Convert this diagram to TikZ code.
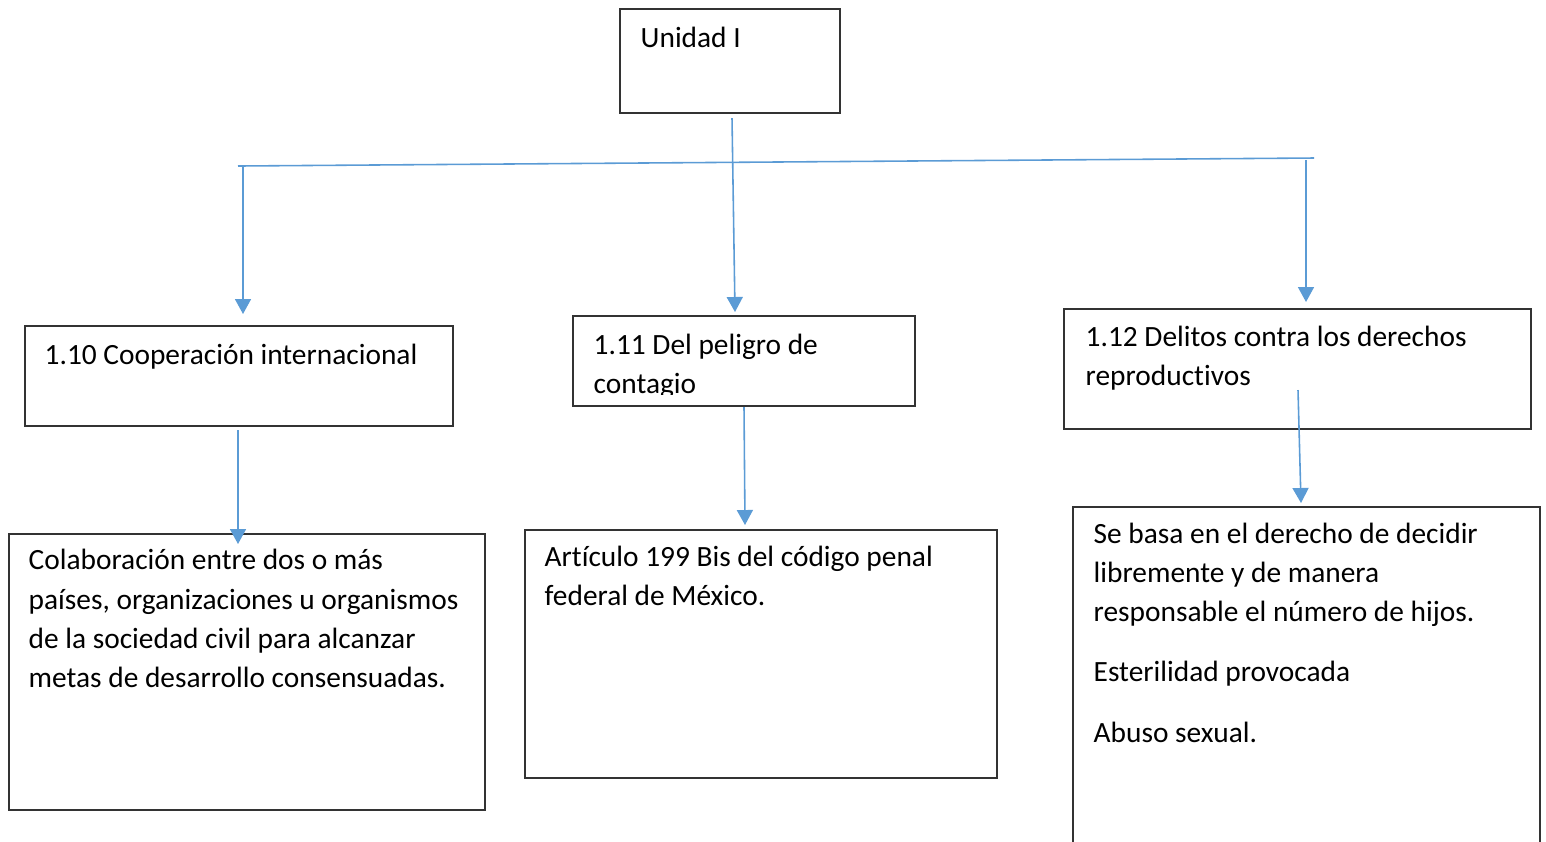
\documentclass[tikz,border=0pt]{standalone}
\usepackage{fontspec}
\setmainfont{Carlito}[Ligatures=NoCommon]
\usetikzlibrary{arrows.meta, positioning}
\definecolor{linkblue}{HTML}{5B9BD5}

\begin{document}
\begin{tikzpicture}[x=0.1mm, y=-0.1mm, every node/.style={font=\fontsize{8.36pt}{11.1pt}\selectfont}]
    % Define styles
    \tikzstyle{box} = [rectangle, draw=black!80, line width=0.45pt, anchor=north west, inner sep=0pt]
    \tikzstyle{txt} = [anchor=base west, align=left, inner sep=0pt]
    \tikzstyle{link} = [draw=linkblue, line width=0.45pt]
    \tikzstyle{arrow} = [link, -{Triangle[width=1.6mm, length=1.5mm]}]

    \useasboundingbox (0,0) rectangle (1546,841);

    % Top box (text nodes sit on their last baseline)
    \node (unidad) [box, minimum width=22mm, minimum height=10.4mm] at (619,8) {};
    \node (t_unidad) [txt] at (640,47) {Unidad I};

    % Topic boxes
    \node (b110) [box, minimum width=42.8mm, minimum height=10mm] at (24,325) {};
    \node (t110) [txt] at (44,364) {1.10 Cooperación internacional};
    \node (b111) [box, minimum width=34.2mm, minimum height=9mm] at (572,315) {};
    \begin{scope}
        \clip (572,315) rectangle (914,394);
        \node (t111) [txt] at (593,393) {1.11 Del peligro de\\contagio};
    \end{scope}
    \node (b112) [box, minimum width=46.7mm, minimum height=12mm] at (1063,308) {};
    \node (t112) [txt] at (1085,385) {1.12 Delitos contra los derechos\\reproductivos};

    % Detail boxes
    \node (bcoop) [box, minimum width=47.6mm, minimum height=27.6mm] at (8,533) {};
    \node (tcoop) [txt] at (28,687) {Colaboración entre dos o más\\países, organizaciones u organismos\\de la sociedad civil para alcanzar\\metas de desarrollo consensuadas.};
    \node (bart) [box, minimum width=47.2mm, minimum height=24.8mm] at (524,529) {};
    \node (tart) [txt] at (544,605) {Artículo 199 Bis del código penal\\federal de México.};
    \node (bdel) [box, minimum width=46.7mm, minimum height=36mm] at (1072,506) {};
    \node (tdel) [txt] at (1093,742) {Se basa en el derecho de decidir\\libremente y de manera\\responsable el número de hijos.\\[6pt]Esterilidad provocada\\[6pt]Abuso sexual.};

    % Spine
    \coordinate (spine_l) at (238,166);
    \coordinate (spine_r) at (1314,158);
    \draw [link] (spine_l) -- (spine_r);

    % Arrows to topics
    \coordinate (top_out) at (732,118);
    \coordinate (in111) at (735,312);
    \coordinate (drop_l) at (243,166);
    \coordinate (in110) at (243,314);
    \coordinate (drop_r) at (1306,160);
    \coordinate (in112) at (1306,302);
    \draw [arrow] (top_out) -- (in111);
    \draw [arrow] (drop_l) -- (in110);
    \draw [arrow] (drop_r) -- (in112);

    % Arrows to details
    \coordinate (out110) at (238,430);
    \coordinate (incoop) at (238,544);
    \coordinate (out111) at (744,407);
    \coordinate (inart) at (745,525);
    \coordinate (out112) at (1298,390);
    \coordinate (indel) at (1301,503);
    \draw [arrow] (out110) -- (incoop);
    \draw [arrow] (out111) -- (inart);
    \draw [arrow] (out112) -- (indel);
\end{tikzpicture}
\end{document}
